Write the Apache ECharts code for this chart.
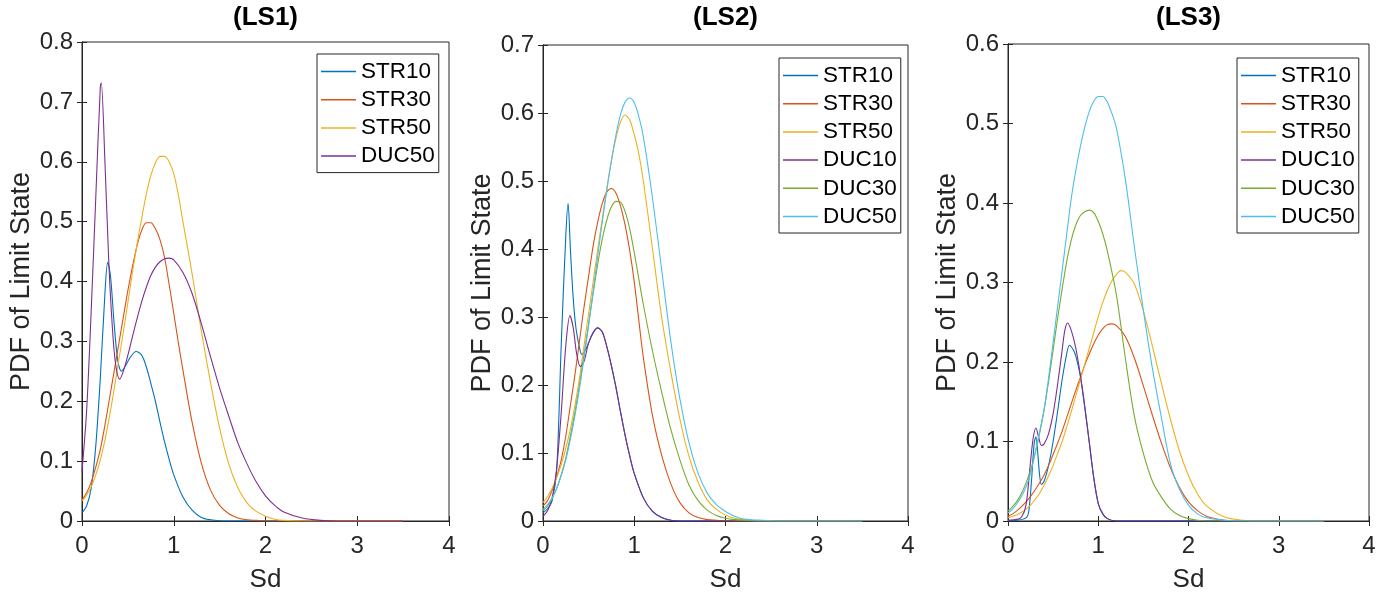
<!DOCTYPE html>
<html>
<head>
<meta charset="utf-8">
<script src="https://cdn.jsdelivr.net/npm/echarts@6/dist/echarts.min.js"></script>
<style>
html,body{margin:0;padding:0;background:#fff;}
#chart{width:1390px;height:598px;}
</style>
</head>
<body>
<div id="chart"></div>
<script>
// ---------- data (Sd, PDF) ----------
const PANEL_TITLES = ['(LS1)', '(LS2)', '(LS3)'];
const Y_MAX = [0.8, 0.7, 0.6];
const X_TICKS = [0, 1, 2, 3, 4];

const LS1_NAMES = ['STR10', 'STR30', 'STR50', 'DUC50'];
const LS2_NAMES = ['STR10', 'STR30', 'STR50', 'DUC10', 'DUC30', 'DUC50'];
const LS3_NAMES = ['STR10', 'STR30', 'STR50', 'DUC10', 'DUC30', 'DUC50'];

const LS1_STR10 = [[0,0.014],[0.05,0.025],[0.1,0.055],[0.15,0.125],[0.2,0.24],[0.25,0.38],[0.28,0.432],[0.31,0.41],[0.35,0.33],[0.39,0.268],[0.43,0.25],[0.47,0.258],[0.52,0.272],[0.59,0.283],[0.65,0.277],[0.7,0.258],[0.75,0.23],[0.8,0.2],[0.85,0.165],[0.9,0.132],[0.95,0.103],[1.0,0.077],[1.1,0.04],[1.2,0.018],[1.3,0.006],[1.4,0.002],[1.5,0.0005],[1.7,0],[3.5,0]];
const LS1_STR30 = [[0,0.035],[0.05,0.047],[0.1,0.065],[0.15,0.09],[0.2,0.12],[0.25,0.16],[0.3,0.205],[0.35,0.25],[0.4,0.295],[0.45,0.34],[0.5,0.385],[0.55,0.425],[0.6,0.46],[0.65,0.485],[0.7,0.498],[0.75,0.498],[0.8,0.488],[0.85,0.47],[0.9,0.44],[0.95,0.395],[1.0,0.347],[1.05,0.298],[1.1,0.252],[1.2,0.165],[1.3,0.097],[1.4,0.052],[1.5,0.026],[1.6,0.012],[1.7,0.005],[1.8,0.002],[1.9,0.001],[2.0,0],[3.5,0]];
const LS1_STR50 = [[0,0.033],[0.05,0.043],[0.1,0.057],[0.15,0.077],[0.2,0.102],[0.25,0.135],[0.3,0.175],[0.35,0.22],[0.4,0.268],[0.45,0.315],[0.5,0.365],[0.55,0.415],[0.6,0.462],[0.65,0.505],[0.7,0.545],[0.75,0.577],[0.8,0.598],[0.85,0.609],[0.9,0.609],[0.95,0.6],[1.0,0.58],[1.05,0.545],[1.1,0.5],[1.2,0.413],[1.3,0.318],[1.4,0.232],[1.5,0.155],[1.6,0.095],[1.7,0.055],[1.8,0.03],[1.9,0.016],[2.0,0.008],[2.1,0.003],[2.2,0.001],[2.4,0],[3.5,0]];
const LS1_DUC50 = [[0,0.083],[0.05,0.183],[0.1,0.35],[0.15,0.54],[0.2,0.726],[0.21,0.732],[0.25,0.6],[0.29,0.44],[0.32,0.35],[0.36,0.27],[0.41,0.237],[0.45,0.25],[0.5,0.277],[0.55,0.308],[0.6,0.338],[0.65,0.366],[0.7,0.39],[0.75,0.41],[0.8,0.424],[0.85,0.433],[0.9,0.438],[0.95,0.439],[1.0,0.436],[1.1,0.415],[1.2,0.38],[1.3,0.33],[1.4,0.275],[1.5,0.222],[1.6,0.175],[1.7,0.13],[1.8,0.095],[1.9,0.065],[2.0,0.042],[2.1,0.026],[2.2,0.015],[2.4,0.005],[2.6,0.001],[2.8,0],[3.5,0]];

const LS2_STR10 = [[0,0.012],[0.05,0.018],[0.1,0.03],[0.15,0.075],[0.2,0.26],[0.25,0.42],[0.275,0.467],[0.3,0.4],[0.33,0.33],[0.36,0.285],[0.4,0.255],[0.425,0.245],[0.46,0.25],[0.5,0.262],[0.55,0.277],[0.6,0.284],[0.65,0.278],[0.7,0.256],[0.75,0.228],[0.8,0.196],[0.85,0.16],[0.9,0.126],[0.95,0.096],[1.0,0.07],[1.1,0.034],[1.2,0.014],[1.3,0.005],[1.4,0.001],[1.5,0],[3.5,0]];
const LS2_STR30 = [[0,0.022],[0.05,0.03],[0.1,0.045],[0.15,0.065],[0.2,0.09],[0.25,0.125],[0.3,0.17],[0.35,0.215],[0.4,0.265],[0.45,0.315],[0.5,0.36],[0.55,0.405],[0.6,0.44],[0.65,0.467],[0.7,0.484],[0.75,0.489],[0.8,0.482],[0.85,0.463],[0.9,0.435],[0.95,0.398],[1.0,0.352],[1.05,0.295],[1.1,0.24],[1.2,0.155],[1.3,0.097],[1.4,0.055],[1.5,0.027],[1.6,0.012],[1.7,0.005],[1.8,0.002],[1.9,0.001],[2.0,0],[3.5,0]];
const LS2_STR50 = [[0,0.027],[0.05,0.036],[0.1,0.048],[0.15,0.064],[0.2,0.083],[0.25,0.107],[0.3,0.135],[0.35,0.17],[0.4,0.21],[0.45,0.258],[0.5,0.305],[0.55,0.352],[0.6,0.4],[0.65,0.445],[0.7,0.49],[0.75,0.53],[0.8,0.563],[0.85,0.587],[0.9,0.597],[0.95,0.59],[1.0,0.568],[1.05,0.54],[1.1,0.5],[1.2,0.4],[1.3,0.3],[1.4,0.22],[1.5,0.15],[1.6,0.095],[1.7,0.057],[1.8,0.031],[1.9,0.017],[2.0,0.009],[2.1,0.004],[2.2,0.002],[2.4,0],[3.5,0]];
const LS2_DUC10 = [[0,0.007],[0.05,0.015],[0.1,0.034],[0.15,0.078],[0.2,0.16],[0.25,0.258],[0.295,0.302],[0.33,0.285],[0.37,0.245],[0.41,0.227],[0.45,0.235],[0.5,0.262],[0.55,0.277],[0.6,0.284],[0.65,0.278],[0.7,0.256],[0.75,0.228],[0.8,0.196],[0.85,0.16],[0.9,0.126],[0.95,0.096],[1.0,0.07],[1.1,0.034],[1.2,0.014],[1.3,0.005],[1.4,0.001],[1.5,0],[3.5,0]];
const LS2_DUC30 = [[0,0.015],[0.05,0.022],[0.1,0.033],[0.15,0.048],[0.2,0.068],[0.25,0.093],[0.3,0.125],[0.35,0.16],[0.4,0.2],[0.45,0.245],[0.5,0.29],[0.55,0.335],[0.6,0.378],[0.65,0.415],[0.7,0.443],[0.75,0.462],[0.8,0.47],[0.85,0.469],[0.9,0.455],[0.95,0.43],[1.0,0.395],[1.05,0.356],[1.1,0.318],[1.2,0.25],[1.3,0.19],[1.4,0.135],[1.5,0.09],[1.6,0.053],[1.7,0.03],[1.8,0.016],[1.9,0.008],[2.0,0.004],[2.1,0.002],[2.2,0.001],[2.4,0],[3.5,0]];
const LS2_DUC50 = [[0,0.017],[0.05,0.024],[0.1,0.034],[0.15,0.048],[0.2,0.067],[0.25,0.09],[0.3,0.12],[0.35,0.155],[0.4,0.195],[0.45,0.24],[0.5,0.288],[0.55,0.338],[0.6,0.39],[0.65,0.44],[0.7,0.487],[0.75,0.53],[0.8,0.568],[0.85,0.598],[0.9,0.616],[0.95,0.622],[1.0,0.615],[1.05,0.595],[1.1,0.565],[1.2,0.475],[1.3,0.37],[1.4,0.265],[1.5,0.18],[1.6,0.115],[1.7,0.07],[1.8,0.041],[1.9,0.024],[2.0,0.014],[2.1,0.007],[2.2,0.003],[2.4,0.001],[2.6,0],[3.5,0]];

const LS3_STR10 = [[0,0.0005],[0.1,0.001],[0.2,0.004],[0.23,0.012],[0.26,0.05],[0.29,0.098],[0.31,0.106],[0.33,0.085],[0.35,0.058],[0.37,0.046],[0.4,0.05],[0.45,0.07],[0.5,0.1],[0.55,0.138],[0.6,0.178],[0.65,0.21],[0.68,0.221],[0.72,0.216],[0.75,0.208],[0.8,0.183],[0.85,0.143],[0.9,0.099],[0.95,0.054],[1.0,0.022],[1.05,0.009],[1.1,0.003],[1.2,0],[3.5,0]];
const LS3_STR30 = [[0,0.006],[0.05,0.009],[0.1,0.013],[0.15,0.018],[0.2,0.024],[0.25,0.031],[0.3,0.039],[0.35,0.048],[0.4,0.058],[0.45,0.07],[0.5,0.084],[0.55,0.098],[0.6,0.113],[0.65,0.13],[0.7,0.147],[0.75,0.164],[0.8,0.18],[0.85,0.196],[0.9,0.21],[0.95,0.223],[1.0,0.234],[1.05,0.242],[1.1,0.247],[1.15,0.248],[1.2,0.246],[1.3,0.232],[1.4,0.205],[1.5,0.17],[1.6,0.133],[1.7,0.098],[1.8,0.067],[1.9,0.042],[2.0,0.024],[2.1,0.013],[2.2,0.006],[2.4,0.001],[2.6,0],[3.5,0]];
const LS3_STR50 = [[0,0.004],[0.05,0.006],[0.1,0.008],[0.15,0.011],[0.2,0.015],[0.25,0.02],[0.3,0.027],[0.35,0.035],[0.4,0.045],[0.45,0.057],[0.5,0.07],[0.55,0.085],[0.6,0.1],[0.65,0.118],[0.7,0.137],[0.75,0.157],[0.8,0.177],[0.85,0.197],[0.9,0.217],[0.95,0.237],[1.0,0.257],[1.05,0.275],[1.1,0.29],[1.15,0.302],[1.2,0.31],[1.25,0.315],[1.3,0.313],[1.4,0.298],[1.5,0.264],[1.6,0.22],[1.7,0.173],[1.8,0.128],[1.9,0.088],[2.0,0.057],[2.1,0.034],[2.2,0.019],[2.4,0.005],[2.6,0.001],[2.8,0],[3.5,0]];
const LS3_DUC10 = [[0,0.001],[0.1,0.002],[0.15,0.005],[0.2,0.02],[0.25,0.075],[0.28,0.105],[0.31,0.117],[0.34,0.105],[0.37,0.095],[0.4,0.097],[0.45,0.11],[0.5,0.135],[0.55,0.172],[0.6,0.215],[0.63,0.24],[0.66,0.249],[0.7,0.24],[0.75,0.218],[0.8,0.185],[0.85,0.145],[0.9,0.1],[0.95,0.055],[1.0,0.022],[1.05,0.009],[1.1,0.003],[1.2,0],[3.5,0]];
const LS3_DUC30 = [[0,0.0125],[0.05,0.018],[0.1,0.025],[0.15,0.035],[0.2,0.048],[0.25,0.064],[0.3,0.085],[0.35,0.11],[0.4,0.14],[0.45,0.176],[0.5,0.215],[0.55,0.255],[0.6,0.292],[0.65,0.326],[0.7,0.353],[0.75,0.372],[0.8,0.384],[0.85,0.389],[0.9,0.391],[0.95,0.388],[1.0,0.377],[1.05,0.361],[1.1,0.34],[1.2,0.285],[1.3,0.205],[1.4,0.132],[1.5,0.085],[1.6,0.05],[1.7,0.03],[1.8,0.015],[1.9,0.007],[2.0,0.003],[2.1,0.001],[2.2,0],[3.5,0]];
const LS3_DUC50 = [[0,0.01],[0.05,0.015],[0.1,0.022],[0.15,0.031],[0.2,0.043],[0.25,0.06],[0.3,0.085],[0.35,0.112],[0.4,0.14],[0.45,0.18],[0.5,0.225],[0.55,0.27],[0.6,0.315],[0.65,0.36],[0.7,0.405],[0.75,0.44],[0.8,0.47],[0.85,0.495],[0.9,0.515],[0.95,0.528],[1.0,0.534],[1.05,0.534],[1.1,0.527],[1.15,0.513],[1.2,0.495],[1.3,0.43],[1.4,0.345],[1.5,0.265],[1.6,0.192],[1.7,0.13],[1.8,0.072],[1.9,0.04],[2.0,0.02],[2.1,0.009],[2.2,0.004],[2.4,0.001],[2.6,0],[3.5,0]];

const LS1_DATA = [LS1_STR10, LS1_STR30, LS1_STR50, LS1_DUC50];
const LS2_DATA = [LS2_STR10, LS2_STR30, LS2_STR50, LS2_DUC10, LS2_DUC30, LS2_DUC50];
const LS3_DATA = [LS3_STR10, LS3_STR30, LS3_STR50, LS3_DUC10, LS3_DUC30, LS3_DUC50];

// ---------- styling ----------
const COLORS6 = ['#0072BD', '#D95319', '#EDB120', '#7E2F8E', '#77AC30', '#4DBEEE'];
const FONT = '"Liberation Sans", Arial, Helvetica, sans-serif';
const AX = '#262626';

const panels = [
  {names: LS1_NAMES, data: LS1_DATA, grid: {left: 82, top: 42, width: 367, height: 482},
   legend: {left: 317, top: 54}},
  {names: LS2_NAMES, data: LS2_DATA, grid: {left: 543, top: 45, width: 365, height: 479},
   legend: {left: 779, top: 58}},
  {names: LS3_NAMES, data: LS3_DATA, grid: {left: 1008, top: 44, width: 361, height: 480},
   legend: {left: 1237, top: 58}}
];

const grids = [], xAxes = [], yAxes = [], series = [], legends = [], graphics = [];

panels.forEach((p, i) => {
  grids.push(Object.assign({show: true, borderColor: AX, borderWidth: 1, backgroundColor: '#fff'}, p.grid));
  const tick = {show: true, inside: true, length: 5, lineStyle: {color: AX, width: 1}};
  const line = {show: true, lineStyle: {color: AX, width: 1}};
  xAxes.push({type: 'value', gridIndex: i, min: X_TICKS[0], max: X_TICKS[X_TICKS.length - 1], interval: 1,
    position: 'bottom', axisLine: line, axisTick: tick, splitLine: {show: false},
    axisLabel: {fontSize: 24, color: AX, fontFamily: FONT, margin: 13},
    name: 'Sd', nameLocation: 'middle', nameGap: 46,
    nameTextStyle: {fontSize: 26, color: AX, fontFamily: FONT}});
  xAxes.push({type: 'value', gridIndex: i, min: X_TICKS[0], max: X_TICKS[X_TICKS.length - 1], interval: 1,
    position: 'top', axisLine: line, axisTick: tick, splitLine: {show: false}, axisLabel: {show: false}});
  yAxes.push({type: 'value', gridIndex: i, min: 0, max: Y_MAX[i], interval: 0.1,
    position: 'left', axisLine: line, axisTick: tick, splitLine: {show: false},
    axisLabel: {fontSize: 24, color: AX, fontFamily: FONT, margin: 9},
    name: 'PDF of Limit State', nameLocation: 'middle', nameGap: 47,
    nameTextStyle: {fontSize: 27, color: AX, fontFamily: FONT}});
  yAxes.push({type: 'value', gridIndex: i, min: 0, max: Y_MAX[i], interval: 0.1,
    position: 'right', axisLine: line, axisTick: tick, splitLine: {show: false}, axisLabel: {show: false}});

  const prefix = 'LS' + (i + 1) + ' ';
  const legendNames = [];
  p.names.forEach((nm, k) => {
    const colorIdx = (p.names.length === 4 && k === 3) ? 3 : k;
    const color = COLORS6[colorIdx];
    legendNames.push({name: prefix + nm, icon: 'rect', itemStyle: {color: color}});
    series.push({
      type: 'line', name: prefix + nm, xAxisIndex: 2 * i, yAxisIndex: 2 * i,
      data: p.data[k], symbol: 'none', showSymbol: false, smooth: 0.3,
      lineStyle: {width: 1.1, color: color}, itemStyle: {color: color},
      emphasis: {disabled: true}, animation: false, z: 2 + k
    });
  });
  legends.push({
    data: legendNames, formatter: n => n.slice(4), orient: 'vertical',
    left: p.legend.left, top: p.legend.top, padding: [6, 4, 5, 4],
    itemGap: 5.2, itemWidth: 35, itemHeight: 1.5, icon: 'rect',
    borderColor: AX, borderWidth: 1, backgroundColor: '#fff',
    selectedMode: false,
    textStyle: {fontSize: 22.5, color: '#000', fontFamily: FONT, lineHeight: 22}
  });
  graphics.push({
    type: 'text', x: p.grid.left + p.grid.width / 2, y: 18,
    style: {text: PANEL_TITLES[i], align: 'center', verticalAlign: 'middle',
      textAlign: 'center', textVerticalAlign: 'middle',
      font: 'bold 26px ' + FONT, fill: '#000'}
  });
});

const chart = echarts.init(document.getElementById('chart'), null, {renderer: 'canvas'});
chart.setOption({
  backgroundColor: '#fff',
  animation: false,
  grid: grids, xAxis: xAxes, yAxis: yAxes, series: series,
  legend: legends, graphic: graphics
});
</script>
</body>
</html>
